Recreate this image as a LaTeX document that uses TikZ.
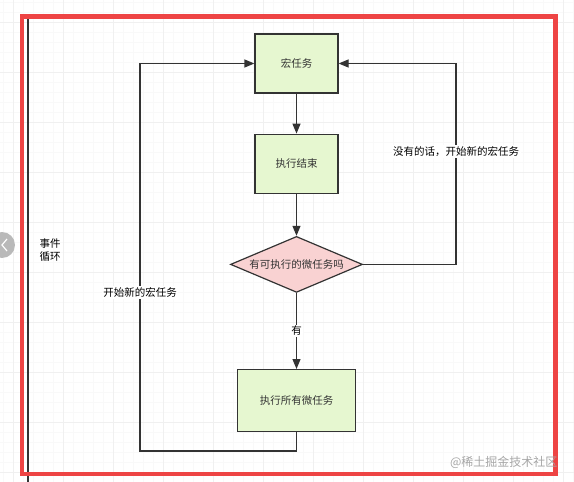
\documentclass[tikz,border=0pt]{standalone}
\usepackage{fontspec}
\setmainfont{Noto Sans CJK SC}
\usetikzlibrary{positioning,shapes.geometric,arrows.meta}
\definecolor{taskgreen}{HTML}{E6F7D0}
\definecolor{askpink}{HTML}{F9D2D2}
\definecolor{framered}{HTML}{EE4444}
\definecolor{edgegray}{HTML}{333333}
\tikzset{
  task/.style={draw=edgegray, line width=1.2pt, align=center, font=\fontsize{10.5}{12}\selectfont, text=edgegray},
  simple task/.style={task, fill=taskgreen, minimum width=83pt, minimum height=59pt},
  wide task/.style={task, fill=taskgreen, minimum width=118pt, minimum height=62pt},
  question/.style={task, diamond, aspect=2.4, fill=askpink, minimum width=132pt, minimum height=56pt, inner sep=0pt},
  flow/.style={draw=edgegray, line width=1.2pt, -{Triangle[length=10pt,width=8pt]}},
  flow label/.style={fill=white, font=\fontsize{10.5}{12}\selectfont, inner sep=1.5pt},
  minor grid/.style={gray!5, line width=0.4pt},
  major grid/.style={gray!12, line width=0.6pt},
}

\begin{document}
\begin{tikzpicture}[x=1pt,y=-1pt]
\useasboundingbox (0,0) rectangle (574,482);
% the grid
\foreach \gx in {3,13,...,573} \draw[minor grid] (\gx,0) -- (\gx,482);
\foreach \gy in {2,12,...,482} \draw[minor grid] (0,\gy) -- (574,\gy);
\foreach \gx in {13,63,...,563} \draw[major grid] (\gx,0) -- (\gx,482);
\foreach \gy in {22,72,...,472} \draw[major grid] (0,\gy) -- (574,\gy);
% the frame
\draw[edgegray, line width=1.2pt] (28,19) -- (28,482);
\draw[framered, line width=4.5pt] (22,16.5) rectangle (555.5,474);
% the nodes
\node [simple task] (macro) at (296.5,63.5) {宏任务};
\node [simple task, below=40pt of macro] (done) {执行结束};
\node [question, below=42pt of done] (micro) {有可执行的微任务吗};
\node [wide task, below=76pt of micro] (runall) {执行所有微任务};
\coordinate (leftdown) at (runall.south |- 0,451);
\coordinate (leftup) at (140,451);
\coordinate (rightup) at (456,0);
%drawings of vectors
\draw[flow] (macro.south) -- (done.north);
\draw[flow] (done.south) -- (micro.north);
\draw[flow] (micro.south) -- node[flow label] (yes) {有} (runall.north);
\draw[flow] (runall.south) -- (leftdown) -- (leftup) |- node[flow label, pos=0.205] (startnew) {开始新的宏任务} (macro.west);
\draw[flow] (micro.east) -| node[flow label, pos=0.78] (nomore) {没有的话，开始新的宏任务} (rightup |- macro.east) -- (macro.east);
% side texts
\node [font=\fontsize{10.5}{13}\selectfont, align=left, anchor=west] (loop) at (36,250) {事件\\循环};
\node [font=\fontsize{12}{14}\selectfont, text=gray!70, anchor=east] (mark) at (561,462) {@稀土掘金技术社区};
\fill[gray!55] (2,245) circle (13);
\draw[white, line width=1.2pt] (7,239) -- (2,245) -- (7,251);
\end{tikzpicture}
\end{document}
